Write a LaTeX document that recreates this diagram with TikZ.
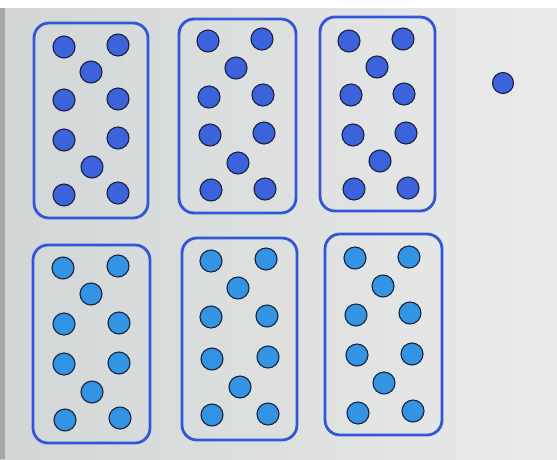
\documentclass[tikz,border=0pt]{standalone}
\begin{document}
\begin{tikzpicture}[x=1pt,y=-1pt,
  box/.style={draw=boxblue,line width=2.8pt,rounded corners=15pt},
  dotA/.style={circle,draw=dotline,line width=1.1pt,fill=dotdark,minimum size=22pt,inner sep=0pt},
  dotB/.style={circle,draw=dotline,line width=1.1pt,fill=dotlight,minimum size=22pt,inner sep=0pt}]
\definecolor{boxblue}{HTML}{3057D8}
\definecolor{dotline}{HTML}{1A2240}
\definecolor{dotdark}{HTML}{3C62DC}
\definecolor{dotlight}{HTML}{3394E4}
\definecolor{bgleft}{HTML}{D2D6D6}
\definecolor{bgright}{HTML}{EAEAEA}
\useasboundingbox (0,0) rectangle (557,459);
\shade[left color=bgleft,right color=bgright] (0,0) rectangle (557,459);
\fill[white] (0,0) rectangle (557,8);
\fill[black!35] (0,8) rectangle (5,459);
% boxes
\draw[box] (34,23) rectangle (148,218);
\draw[box] (179,19) rectangle (296,213);
\draw[box] (320,17) rectangle (435,211);
\draw[box] (33,245) rectangle (150,443);
\draw[box] (182,238) rectangle (297,440);
\draw[box] (325,234) rectangle (442,435);
% top row dots
\foreach \x/\y [count=\i] in {64/47,118/45,91/72,64/100,118/99,64/140,118/138,92/167,64/195,118/193}
  \node[dotA] (a\i) at (\x,\y) {};
\foreach \x/\y [count=\i] in {208/41,262/39,236/68,209/97,263/95,210/135,264/133,238/163,211/190,265/189}
  \node[dotA] (b\i) at (\x,\y) {};
\foreach \x/\y [count=\i] in {349/41,403/39,377/67,351/95,404/94,353/135,406/133,380/161,354/189,408/188}
  \node[dotA] (c\i) at (\x,\y) {};
\node[dotA,minimum size=21pt] (extra) at (503,83) {};
% bottom row dots
\foreach \x/\y [count=\i] in {63/268,118/266,91/294,64/324,119/323,64/364,119/363,92/392,65/420,120/418}
  \node[dotB] (d\i) at (\x,\y) {};
\foreach \x/\y [count=\i] in {211/261,266/259,238/288,211/317,267/316,212/359,268/357,240/387,212/415,268/414}
  \node[dotB] (e\i) at (\x,\y) {};
\foreach \x/\y [count=\i] in {355/258,409/257,383/286,356/315,410/313,357/355,412/354,384/383,358/413,413/411}
  \node[dotB] (f\i) at (\x,\y) {};
\end{tikzpicture}
\end{document}
